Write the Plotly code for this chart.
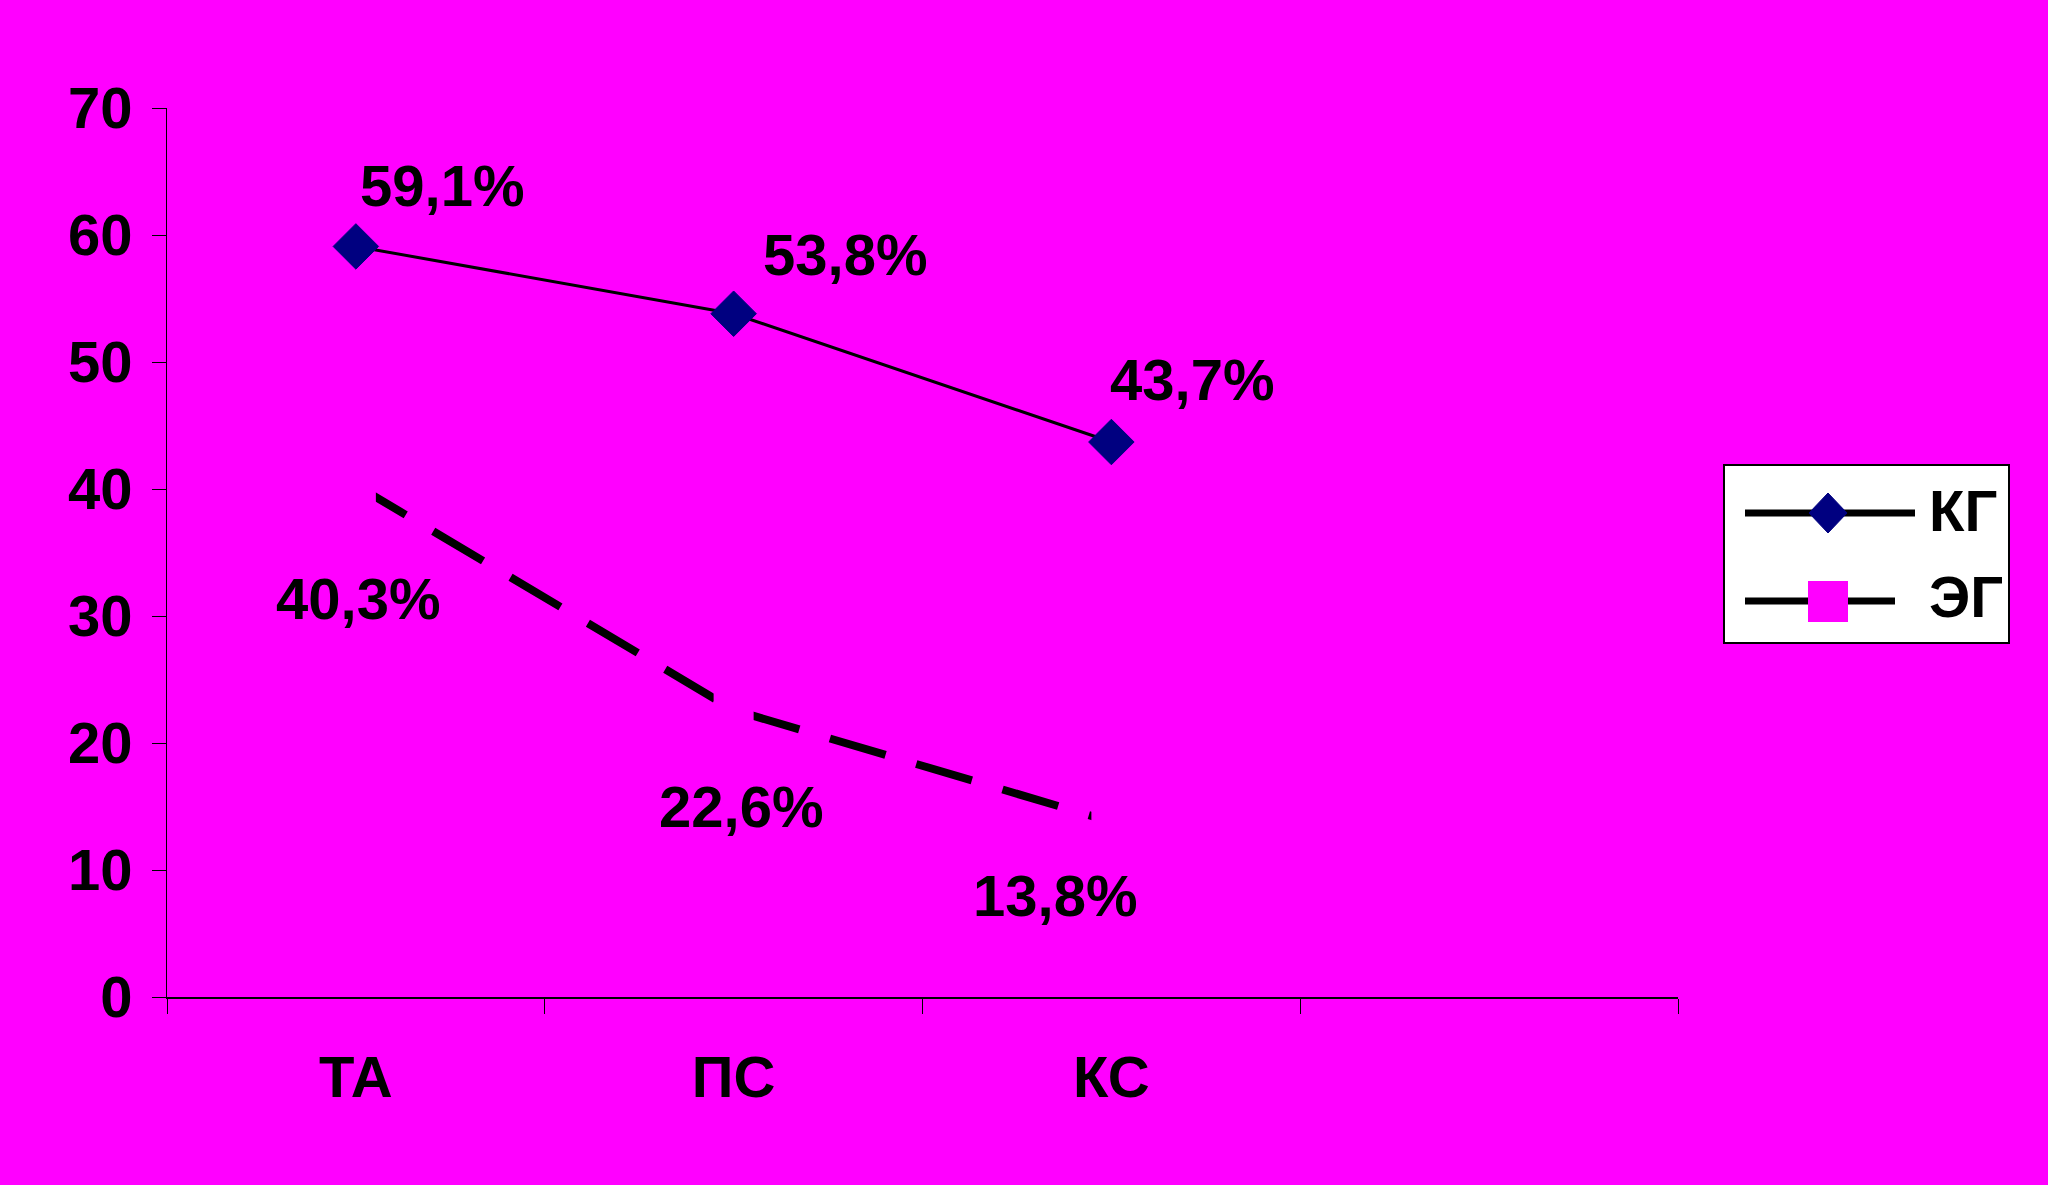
import plotly.graph_objects as go

# ---- data ----
categories = ["ТА", "ПС", "КС"]
kg_values = [59.1, 53.8, 43.7]
eg_values = [40.3, 22.6, 13.8]
series_names = ["КГ", "ЭГ"]
y_ticks = [0, 10, 20, 30, 40, 50, 60, 70]

# ---- style / layout constants ----
W, H = 2048, 1185
L, R, T, B = 167, 1678, 108, 997
MAG = "#FF00FF"
NAVY = "#000080"
FONT = "Liberation Sans, Arial, sans-serif"
FS = 58

kg_label_offsets = [(86, 61), (111, 59), (81, 63)]
eg_label_offsets = [(2, -113), (7, -97), (-56, -74)]


def px(x):
    return (x - L) / (R - L)


def py(y):
    return (B - y) / (B - T)


def fmt(v):
    return f"{v:.1f}".replace(".", ",") + "%"


xs = list(range(len(categories)))

fig = go.Figure()
fig.add_trace(go.Scatter(
    x=xs, y=eg_values, name=series_names[1], mode="lines+markers",
    line=dict(color="black", width=8, dash="58px,32px"),
    marker=dict(symbol="square", size=40, color=MAG, line=dict(width=0)),
    showlegend=False, cliponaxis=False))
fig.add_trace(go.Scatter(
    x=xs, y=kg_values, name=series_names[0], mode="lines+markers",
    line=dict(color="black", width=3),
    marker=dict(symbol="diamond", size=35, color=NAVY, line=dict(width=1, color=NAVY)),
    showlegend=False, cliponaxis=False))

annotations = []
for vals, offs in ((kg_values, kg_label_offsets), (eg_values, eg_label_offsets)):
    for xi, v, (dx, dy) in zip(xs, vals, offs):
        annotations.append(dict(
            x=xi, y=v, xref="x", yref="y", text=fmt(v), showarrow=False,
            xshift=dx, yshift=dy, xanchor="center", yanchor="middle",
            font=dict(family=FONT, size=FS, color="black", weight="bold")))

# custom legend
shapes = [
    dict(type="rect", xref="paper", yref="paper",
         x0=px(1724), x1=px(2009), y0=py(643), y1=py(465),
         fillcolor="white", line=dict(color="black", width=2), layer="above"),
    dict(type="line", xref="paper", yref="paper",
         x0=px(1745), x1=px(1915), y0=py(513), y1=py(513),
         line=dict(color="black", width=7), layer="above"),
    dict(type="path", xref="paper", yref="paper",
         path=(f"M {px(1809)} {py(513)} L {px(1828)} {py(493)} "
               f"L {px(1847)} {py(513)} L {px(1828)} {py(533)} Z"),
         fillcolor=NAVY, line=dict(color=NAVY, width=1), layer="above"),
    dict(type="line", xref="paper", yref="paper",
         x0=px(1745), x1=px(1895), y0=py(601), y1=py(601),
         line=dict(color="black", width=7), layer="above"),
    dict(type="rect", xref="paper", yref="paper",
         x0=px(1808), x1=px(1848), y0=py(622), y1=py(581),
         fillcolor=MAG, line=dict(width=0), layer="above"),
]
for name, yc in zip(series_names, (510, 596)):
    annotations.append(dict(
        x=px(1927), y=py(yc), xref="paper", yref="paper", text=name,
        showarrow=False, xanchor="left", yanchor="middle",
        font=dict(family=FONT, size=58, color="black", weight="bold")))

fig.update_layout(
    width=W, height=H,
    margin=dict(l=L, r=W - R, t=T, b=H - B, pad=0),
    paper_bgcolor=MAG, plot_bgcolor=MAG,
    showlegend=False,
    annotations=annotations,
    shapes=shapes,
    font=dict(family=FONT, color="black"),
)
fig.update_xaxes(
    range=[-0.5, 3.5], tickmode="array", tickvals=xs, ticktext=categories,
    ticks="", ticklen=0, showgrid=False, zeroline=False,
    showline=True, linecolor="black", linewidth=2,
    tickfont=dict(family=FONT, size=FS, color="black", weight="bold"),
    ticklabelstandoff=28,
    minor=dict(tickmode="array", tickvals=[-0.5, 0.5, 1.5, 2.5, 3.5],
               ticks="outside", ticklen=15, tickwidth=1, tickcolor="black",
               showgrid=False),
)
fig.update_yaxes(
    range=[0, 70], tickmode="array", tickvals=y_ticks,
    ticks="outside", ticklen=14, tickwidth=1, tickcolor="black",
    showgrid=False, zeroline=False,
    showline=True, linecolor="black", linewidth=1,
    tickfont=dict(family=FONT, size=FS, color="black", weight="bold"),
    ticklabelstandoff=8,
)

fig.write_html(
    "out.html",
    config={"displayModeBar": False},
    post_script=("document.body.style.margin='0';"
                 "document.body.style.padding='0';"
                 "document.body.style.background='#FF00FF';"),
)
